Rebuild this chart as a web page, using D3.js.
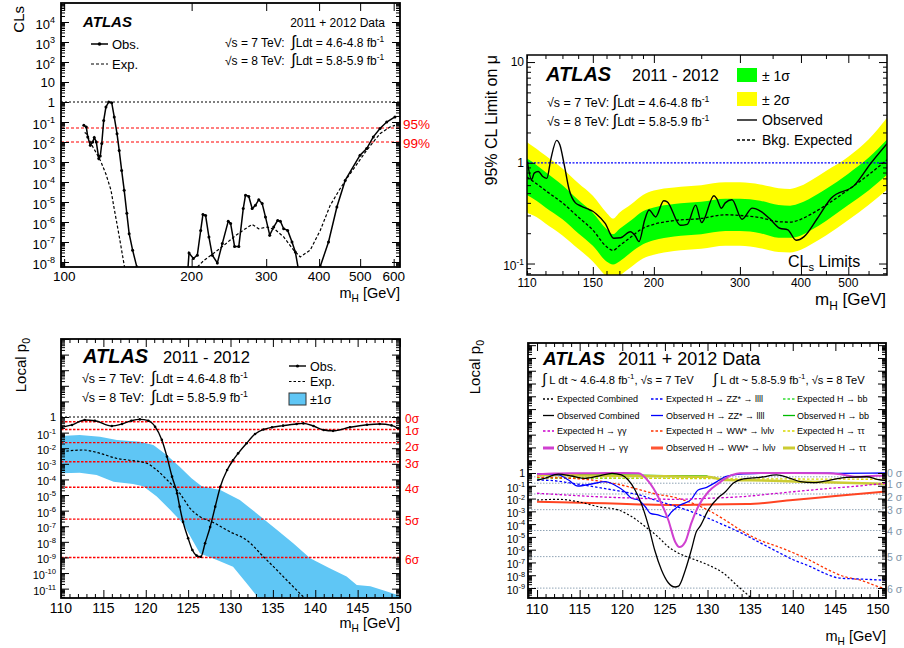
<!DOCTYPE html>
<html><head><meta charset="utf-8">
<script src="https://cdn.jsdelivr.net/npm/d3@7/dist/d3.min.js"></script>
<style>
html,body{margin:0;padding:0;background:#fff;}
svg{display:block;font-family:"Liberation Sans",Arial,Helvetica,sans-serif;}
text{white-space:pre;}
</style></head><body>
<svg id="chart" width="904" height="648" viewBox="0 0 904 648"></svg>
<script>
// ======================= DATA =======================
// ---- Panel 1 : CLs vs mH (log mass) ----
const p1TickMasses = [100, 200, 300, 400, 500, 600];
const p1Observed = [[111.3,0.068],[112.8,0.056],[113.7,0.018],[115.3,0.0068],[116.8,0.010],[117.8,0.0166],[119.1,0.010],[120.7,0.0015],[121.7,0.002],[122.7,0.0084],[124.0,0.12],[125.5,0.56],[127.4,1.0],[129.5,0.93],[131.3,0.18],[133.3,0.026],[134.9,0.0038],[136.7,3.8e-4],[138.6,3.9e-5],[140.6,2.7e-6],[142.4,2.6e-7],[145.1,3.9e-8],[148.5,5.6e-9],[150.1,1e-9],
 [195,1e-9],[197.2,2.8e-8],[201.9,1.5e-8],[206.3,2.2e-8],[210.1,3.8e-7],[212.7,2.4e-6],[215.8,2.1e-6],[219.7,1.8e-7],[223.8,2.2e-8],[230.0,9e-9],[236.3,8.3e-8],[244.1,1.1e-6],[247.2,8.5e-7],[252.6,6e-8],[258.5,6e-8],[264.8,4.7e-6],[268.1,2.2e-5],[272.9,1.9e-5],[278.0,4.7e-6],[283.0,6.8e-6],[288.1,1.3e-5],[293.5,8.3e-6],[298.8,1.8e-6],[305.8,2.2e-7],[312.5,5.6e-7],[319.3,1.2e-6],[324.0,1.1e-6],[329.9,4.6e-7],[337.1,3.8e-7],[345.2,1e-7],[351.5,3.2e-8],[359.7,2e-9],
 [400,1e-9],[402.5,6e-9],[421.0,1e-7],[440.6,5.6e-6],[460.9,1.2e-4],[499.7,2.2e-3],[518.2,4.7e-3],[537.1,0.018],[557.0,0.047],[577.6,0.10],[604.2,0.18]];
const p1Expected = [[111.8,0.03],[112.7,0.027],[117.0,0.0055],[120.7,1.7e-3],[122.2,1e-3],[125.5,2.5e-4],[129.0,3.9e-5],[131.3,4.5e-6],[133.7,5.6e-7],[136.2,6e-8],[138.6,7e-9],[140.6,1e-9],
 [203,1e-9],[206.3,5.6e-9],[213.8,1.2e-8],[225.8,2.8e-8],[238.4,6.8e-8],[251.7,1.8e-7],[265.6,4.1e-7],[278.0,7.6e-7],[288.1,4.6e-7],[301.5,5.6e-7],[315.4,4.1e-7],[329.9,1.8e-7],[348.3,3.9e-8],[361.1,1.8e-8],[381.3,4e-8],[402.5,3.8e-7],[424.9,6.8e-6],[448.6,4.7e-5],[465.1,1.5e-4],[518.2,3.9e-3],[557.0,0.026],[588.0,0.056],[604.2,0.068]];
const p1Levels = [0.05, 0.01];
const p1LevelLabels = ["95%", "99%"];

// ---- Panel 2 : 95% CL limit on mu ----
const p2TickMasses = [110, 150, 200, 300, 400, 500];
const p2BandMass = [110,115,120,130,140,150,160,165,170,180,190,200,220,250,280,300,330,360,380,400,420,450,500,550,600];
const p2Expected = [0.72,0.62,0.53,0.40,0.29,0.215,0.147,0.135,0.15,0.185,0.224,0.245,0.267,0.28,0.305,0.30,0.285,0.26,0.258,0.275,0.31,0.38,0.54,0.76,1.07];
const p2Plus1  = [1.10,0.95,0.81,0.60,0.43,0.32,0.22,0.195,0.22,0.27,0.33,0.36,0.39,0.41,0.44,0.44,0.42,0.38,0.375,0.40,0.45,0.55,0.78,1.12,1.70];
const p2Minus1 = [0.48,0.42,0.36,0.275,0.20,0.15,0.105,0.098,0.105,0.13,0.155,0.17,0.185,0.195,0.21,0.21,0.20,0.18,0.18,0.19,0.215,0.265,0.38,0.53,0.76];
const p2Plus2  = [1.60,1.38,1.18,0.88,0.63,0.47,0.32,0.28,0.32,0.39,0.48,0.53,0.57,0.60,0.64,0.64,0.61,0.56,0.55,0.59,0.67,0.83,1.15,1.70,2.80];
const p2Minus2 = [0.32,0.29,0.25,0.19,0.14,0.105,0.074,0.066,0.075,0.093,0.112,0.122,0.133,0.14,0.15,0.15,0.142,0.13,0.129,0.137,0.155,0.19,0.27,0.38,0.54];
const p2Observed = [[110.2,1.03],[112.4,0.68],[113.8,0.79],[116,0.82],[118.5,0.73],[120.8,0.70],[123,1.07],[126.5,1.67],[128.4,1.51],[131.3,0.92],[134.2,0.54],[138.2,0.40],[142.3,0.37],[146,0.35],[150,0.33],[152.5,0.31],[159,0.25],[165.5,0.178],[171,0.18],[179,0.207],[183,0.19],[186.5,0.165],[191.5,0.27],[195.5,0.34],[201.7,0.29],[209.5,0.42],[213,0.41],[226.5,0.24],[234,0.245],[243.5,0.38],[250.5,0.255],[265.5,0.47],[269,0.44],[275,0.354],[280,0.40],[289,0.43],[303,0.275],[318,0.355],[331,0.33],[345,0.28],[362,0.224],[376,0.216],[391,0.17],[406,0.185],[432,0.28],[461,0.445],[515,0.60],[556,0.99],[600,1.55]];

// ---- Panel 3 : local p0 (combined) ----
const p3TickMasses = [110,115,120,125,130,135,140,145,150];
const p3Observed = [[110.1,0.22],[111.3,0.31],[112.8,0.64],[114,0.58],[116,0.265],[117.2,0.36],[118.3,0.58],[119.3,0.71],[120.3,0.58],[121.1,0.24],[121.9,0.034],[122.5,2.9e-3],[123.1,1.5e-4],[123.7,1.3e-5],[124.0,1.8e-6],[124.4,1.9e-7],[125.0,1.7e-8],[125.5,3e-9],[126.0,1.3e-9],[126.5,1.1e-9],[127.0,8.1e-9],[127.6,9e-8],[128.2,1.8e-6],[128.8,3.4e-5],[129.6,4e-4],[130.3,1.7e-3],[130.9,4.7e-3],[131.9,0.021],[132.9,0.081],[133.9,0.16],[134.9,0.22],[136.2,0.28],[137.8,0.36],[138.6,0.39],[139.8,0.265],[141.0,0.147],[142.1,0.13],[144.1,0.22],[146.1,0.32],[147.6,0.36],[149.0,0.29],[149.8,0.19]];
const p3Expected = [[110.1,6e-3],[112.6,7.7e-3],[114.6,4.7e-3],[116.6,2.2e-3],[118.5,1.6e-3],[120.1,1.1e-3],[121.3,4e-4],[122.5,9.5e-5],[124,1.3e-5],[125.4,1.1e-6],[126.4,4.1e-7],[128.0,1.7e-7],[129.9,4.5e-8],[131.9,1.3e-8],[133.9,1.1e-9],[135.5,1.5e-10],[137.0,2.2e-11],[138.6,3e-12],[139.5,1e-12]];
const p3BandUpper = [[110,0.06],[112.2,0.07],[114.6,0.055],[116.6,0.034],[119.3,0.026],[120.9,0.016],[122.5,3.6e-3],[124,6.5e-4],[125.4,1.2e-4],[126.6,3.7e-5],[128.8,2.1e-5],[131.1,4.8e-6],[133.1,6.6e-7],[135.5,5.7e-8],[137.4,8.1e-9],[139.4,8.8e-10],[141.7,2e-10],[143.7,5.9e-11],[144.9,1.7e-11],[146.5,1.4e-11],[148,8e-12],[150,3.5e-12]];
const p3BandLower = [[110,2.5e-4],[112.2,2.7e-4],[114.2,1.9e-4],[116.2,7.1e-5],[118.5,5.1e-5],[119.7,3.7e-5],[121.3,8e-6],[122.9,1.1e-6],[124.4,1.5e-7],[126.4,1.8e-9],[128.4,6.8e-10],[130.3,2.5e-10],[131.9,2.2e-11],[133.3,2.5e-12],[134,1e-13],[150,1e-13]];
const sigmaPValues = [0.5, 0.1587, 0.02275, 1.35e-3, 3.17e-5, 2.87e-7, 9.87e-10];
const sigmaNames = ["0","1","2","3","4","5","6"];

// ---- Panel 4 : local p0 per channel ----
const p4TickMasses = [110,115,120,125,130,135,140,145,150];
const p4ObsComb = [[110,0.28],[110.9,0.38],[112.5,0.83],[114.1,0.58],[115.6,0.38],[117.2,0.58],[118.8,0.95],[119.9,0.70],[120.7,0.28],[121.5,0.047],[122.3,3.1e-3],[123.1,6.3e-5],[123.8,9.4e-7],[124.6,2.6e-8],[125.4,2.6e-9],[126.2,1.2e-9],[126.6,1.4e-9],[127.4,2.6e-8],[128.1,9.4e-7],[128.7,2.6e-5],[129.1,6.3e-5],[130.1,1.3e-3],[131.3,0.0125],[132.1,0.034],[133.0,0.155],[134.2,0.34],[136.2,0.46],[138.1,0.70],[139.7,0.38],[140.9,0.21],[142.4,0.175],[144.4,0.28],[146.3,0.46],[148.7,0.51],[149.9,0.32],[151,0.25]];
const p4ExpComb = [[110,7.7e-3],[112.5,8.7e-3],[114.8,5.7e-3],[117.2,2.3e-3],[119.5,1.3e-3],[121.1,3.9e-4],[122.7,6.3e-5],[124.2,1.0e-5],[125.4,1.7e-6],[126.6,5.3e-7],[128.1,2.1e-7],[130.1,6.3e-8],[131.9,1.4e-8],[133.5,1.5e-9],[135,2e-10],[136,5e-11]];
const p4ObsZZ = [[110,0.9],[112.5,0.70],[113.7,0.28],[114.8,0.096],[116.4,0.138],[118,0.21],[119.1,0.115],[120.3,0.034],[121.1,0.0105],[121.9,7.7e-3],[122.7,2.3e-3],[123.3,7e-4],[124.2,5.2e-4],[125.2,3.4e-4],[125.8,9.4e-4],[126.8,3.1e-3],[128.1,8.7e-3],[128.9,0.047],[129.9,0.076],[131.1,0.21],[132.1,0.51],[133.8,0.83],[136.2,0.95],[140,1.0],[145,0.95],[151,1.0]];
const p4ExpZZ = [[110,0.28],[112,0.25],[114,0.16],[116,0.10],[118,0.06],[120,0.035],[122,0.019],[124,7e-3],[126,2.8e-3],[128,1.0e-3],[130,3e-4],[132,8e-5],[134,2e-5],[136,4e-6],[138,8e-7],[140,1.7e-7],[142,5e-8],[144,1.2e-8],[145.5,6e-9],[148,5e-9],[151,4e-9]];
const p4ObsGG = [[110,0.8],[112,0.9],[114,0.95],[116,0.95],[118,1.0],[120,1.0],[121.9,0.95],[123.1,0.21],[124.2,0.014],[125.4,2.1e-4],[126.2,4.2e-6],[126.7,1.6e-6],[127.4,4.2e-6],[128.1,1.2e-4],[128.9,2.3e-3],[130.1,0.034],[131.3,0.155],[132.1,0.38],[133.8,0.95],[136,1.0],[140,1.0],[144,0.95],[145.6,0.8],[147.5,0.5],[149.8,0.6],[151,0.6]];
const p4ExpGG = [[110,0.026],[114,0.018],[118,0.013],[122,0.0105],[126,8.7e-3],[130,0.0105],[134,0.014],[138,0.025],[140,0.034],[144,0.06],[148,0.1],[151,0.16]];
const p4ObsWW = [[110,5.7e-3],[114,4.9e-3],[118,4.2e-3],[122,3.5e-3],[126,3.1e-3],[130,3.5e-3],[134.6,3.7e-3],[140,7.7e-3],[145,0.016],[151,0.036]];
const p4ExpWW = [[110,0.45],[112,0.42],[114,0.38],[116,0.3],[118,0.2],[120,0.11],[122,0.05],[124,0.022],[126,0.013],[128,5e-3],[130,1.3e-3],[132,2.2e-4],[134,3e-5],[136,6e-6],[138,2e-6],[140,6e-7],[142,1.5e-7],[144,3e-8],[146,8e-9],[148,4e-9],[150,1.3e-9],[151,8e-10]];
const p4ObsBB = [[110,0.8],[115,0.75],[120,0.7],[125,0.62],[130,0.6]];
const p4ExpBB = [[110,0.4],[115,0.38],[120,0.38],[125,0.38],[130,0.38]];
const p4ObsTT = [[110,0.7],[115,0.65],[120,0.6],[125,0.55],[130,0.5],[132.2,0.28],[137.7,0.25],[140.9,0.21],[145,0.18],[151,0.14]];
const p4ExpTT = [[110,0.45],[120,0.4],[130,0.36],[140,0.34],[151,0.32]];
const p4LegendNames = [
  ["Expected Combined","Observed Combined","Expected H \u2192 \u03b3\u03b3","Observed H \u2192 \u03b3\u03b3"],
  ["Expected H \u2192 ZZ* \u2192 llll","Observed H \u2192 ZZ* \u2192 llll","Expected H \u2192 WW* \u2192 l\u03bdl\u03bd","Observed H \u2192 WW* \u2192 l\u03bdl\u03bd"],
  ["Expected H \u2192 bb","Observed H \u2192 bb","Expected H \u2192 \u03c4\u03c4","Observed H \u2192 \u03c4\u03c4"]];

// ======================= HELPERS =======================
const svg = d3.select('#chart');
const defs = svg.append('defs');

function panel(id, x0, x1, y0, y1, xScale, yDomain) {
  const g = svg.append('g');
  const x = xScale.range([x0, x1]);
  const y = d3.scaleLog().domain(yDomain).range([y1, y0]);
  defs.append('clipPath').attr('id', id).append('rect')
    .attr('x', x0).attr('y', y0).attr('width', x1 - x0).attr('height', y1 - y0);
  const plot = g.append('g').attr('clip-path', `url(#${id})`);
  return {g, plot, x, y, x0, x1, y0, y1};
}
function logTickVals(dom) {
  const lo = Math.min(dom[0], dom[1]), hi = Math.max(dom[0], dom[1]);
  const maj = [], min = [];
  for (let e = Math.floor(Math.log10(lo)); e <= Math.ceil(Math.log10(hi)); e++) {
    for (let k = 1; k <= 9; k++) {
      const v = k * Math.pow(10, e);
      if (v >= lo && v <= hi) (k === 1 ? maj : min).push(v);
    }
  }
  return {maj, min};
}
function ticksAndFrame(P, xMaj, xMin, yMaj, yMin, LM, Lm, fw) {
  const spec = [[d3.axisBottom, P.x, `translate(0,${P.y1})`, true],
                [d3.axisTop, P.x, `translate(0,${P.y0})`, true],
                [d3.axisLeft, P.y, `translate(${P.x0},0)`, false],
                [d3.axisRight, P.y, `translate(${P.x1},0)`, false]];
  spec.forEach(([fn, sc, tr, isX]) => {
    [[isX ? xMaj : yMaj, LM], [isX ? xMin : yMin, Lm]].forEach(([vals, len]) => {
      if (!vals.length) return;
      const a = P.g.append('g').attr('transform', tr)
        .call(fn(sc).tickValues(vals).tickSize(-len).tickFormat(''));
      a.select('.domain').remove();
      a.selectAll('.tick text').remove();
      a.selectAll('line').attr('stroke', '#000').attr('stroke-width', 1);
    });
  });
  P.g.append('rect').attr('x', P.x0).attr('y', P.y0).attr('width', P.x1 - P.x0).attr('height', P.y1 - P.y0)
    .attr('fill', 'none').attr('stroke', '#000').attr('stroke-width', fw);
}
function rich(g, x, y, parts, o = {}) {
  const size = o.size || 12;
  const t = g.append('text').attr('x', x).attr('y', y).attr('font-size', size)
    .attr('text-anchor', o.anchor || 'start').attr('fill', o.fill || '#000');
  if (o.weight) t.attr('font-weight', o.weight);
  if (o.italic) t.attr('font-style', 'italic');
  if (o.transform) t.attr('transform', o.transform);
  let cur = 0;
  parts.forEach(p => {
    let s, target = 0, fs = size;
    if (typeof p === 'string') s = p;
    else if (p.sup !== undefined) { s = p.sup; target = -size * 0.42; fs = size * 0.7; }
    else if (p.sub !== undefined) { s = p.sub; target = size * 0.28; fs = size * 0.7; }
    else if (p.big !== undefined) { s = p.big; fs = size * 1.35; }
    const ts = t.append('tspan').attr('dy', target - cur).text(s);
    if (fs !== size) ts.attr('font-size', fs);
    cur = target;
  });
  return t;
}
function powLabel(g, x, ytick, e, size) {
  if (e === 0) return rich(g, x, ytick + size * 0.36, ['1'], {size, anchor: 'end'});
  if (e === 1) return rich(g, x, ytick + size * 0.36, ['10'], {size, anchor: 'end'});
  return rich(g, x, ytick + size * 0.36 + 2, ['10', {sup: String(e)}], {size, anchor: 'end'});
}
function path(P, data, curve) {
  return d3.line().x(d => P.x(d[0])).y(d => P.y(d[1])).curve(curve || d3.curveLinear)(data);
}
function hline(P, v, color, dash, w) {
  P.plot.append('line').attr('x1', P.x0).attr('x2', P.x1).attr('y1', P.y(v)).attr('y2', P.y(v))
    .attr('stroke', color).attr('stroke-dasharray', dash).attr('stroke-width', w);
}

// ======================= PANEL 1 =======================
{
  const P = panel('c1', 61, 400, 3, 267, d3.scaleLog().domain([98.3, 621]), [Math.pow(10, -8.25), Math.pow(10, 4.95)]);
  hline(P, 1, '#000', '2,2', 1.2);
  p1Levels.forEach(v => hline(P, v, '#ff0000', '3,2', 1.2));
  P.plot.append('path').attr('d', path(P, p1Expected)).attr('fill', 'none').attr('stroke', '#000').attr('stroke-width', 1.2).attr('stroke-dasharray', '3,2');
  P.plot.append('path').attr('d', path(P, p1Observed)).attr('fill', 'none').attr('stroke', '#000').attr('stroke-width', 1.5);
  P.plot.selectAll('circle.m').data(p1Observed).join('circle').attr('cx', d => P.x(d[0])).attr('cy', d => P.y(d[1])).attr('r', 1.5).attr('fill', '#000');
  const yt = logTickVals(P.y.domain());
  ticksAndFrame(P, p1TickMasses, [], yt.maj, yt.min, 8, 4, 1.8);
  for (let e = -8; e <= 4; e++) powLabel(P.g, 55, P.y(Math.pow(10, e)), e, 13);
  p1TickMasses.forEach(m => rich(P.g, P.x(m), 281, [String(m)], {size: 13.5, anchor: 'middle'}));
  rich(P.g, 400, 298, ['m', {sub: 'H'}, ' [GeV]'], {size: 14.5, anchor: 'end'});
  rich(P.g, 24, 6, ['CLs'], {size: 15, anchor: 'end', transform: 'rotate(-90,24,6)'});
  const p1LabelShift = [0.5, 5.5];
  p1LevelLabels.forEach((s, i) => rich(P.g, 403, P.y(p1Levels[i]) + p1LabelShift[i], [s], {size: 13.5, fill: '#ff0000'}));
  rich(P.g, 83, 27, ['ATLAS'], {size: 15, weight: 'bold', italic: true});
  rich(P.g, 385, 27, ['2011 + 2012 Data'], {size: 12, anchor: 'end'});
  rich(P.g, 225, 47, ['\u221as = 7 TeV:  ', {big: '\u222b'}, 'Ldt = 4.6-4.8 fb', {sup: '-1'}], {size: 12});
  rich(P.g, 225, 65, ['\u221as = 8 TeV:  ', {big: '\u222b'}, 'Ldt = 5.8-5.9 fb', {sup: '-1'}], {size: 12});
  // legend
  P.g.append('line').attr('x1', 91).attr('x2', 108).attr('y1', 44).attr('y2', 44).attr('stroke', '#000').attr('stroke-width', 1.5);
  P.g.append('circle').attr('cx', 99.5).attr('cy', 44).attr('r', 1.8).attr('fill', '#000');
  rich(P.g, 112, 49, ['Obs.'], {size: 13});
  P.g.append('line').attr('x1', 91).attr('x2', 108).attr('y1', 64).attr('y2', 64).attr('stroke', '#000').attr('stroke-width', 1.2).attr('stroke-dasharray', '3,2');
  rich(P.g, 112, 69, ['Exp.'], {size: 13});
}

// ======================= PANEL 2 =======================
{
  const P = panel('c2', 527, 887, 55, 275, d3.scaleLog().domain([110, 600]), [Math.pow(10, -1.114), Math.pow(10, 1.07)]);
  const band = (lo, hi) => d3.area().x((d, i) => P.x(p2BandMass[i])).y0((d, i) => P.y(lo[i])).y1((d, i) => P.y(hi[i])).curve(d3.curveMonotoneX)(p2BandMass);
  P.plot.append('path').attr('d', band(p2Minus2, p2Plus2)).attr('fill', '#ffff00');
  P.plot.append('path').attr('d', band(p2Minus1, p2Plus1)).attr('fill', '#00ff00');
  hline(P, 1, '#0000ff', '2,1.5', 1.3);
  const expPts = p2BandMass.map((m, i) => [m, p2Expected[i]]);
  P.plot.append('path').attr('d', path(P, expPts, d3.curveMonotoneX)).attr('fill', 'none').attr('stroke', '#000').attr('stroke-width', 1.3).attr('stroke-dasharray', '3,2');
  P.plot.append('path').attr('d', path(P, p2Observed, d3.curveMonotoneX)).attr('fill', 'none').attr('stroke', '#000').attr('stroke-width', 1.4);
  const yt = logTickVals(P.y.domain());
  ticksAndFrame(P, [150, 200, 300, 400, 500], [110, 120, 130, 140, 160, 170, 180, 190, 250, 350, 450, 550], yt.maj, yt.min, 8, 4, 1.5);
  [1, 0, -1].forEach(e => powLabel(P.g, 524, P.y(Math.pow(10, e)), e, 12));
  p2TickMasses.forEach(m => rich(P.g, P.x(m), 287, [String(m)], {size: 12, anchor: 'middle'}));
  rich(P.g, 886, 305, ['m', {sub: 'H'}, ' [GeV]'], {size: 17, anchor: 'end'});
  rich(P.g, 497, 55, ['95% CL Limit on \u03bc'], {size: 16, anchor: 'end', transform: 'rotate(-90,497,55)'});
  rich(P.g, 546, 81, ['ATLAS'], {size: 20, weight: 'bold', italic: true});
  rich(P.g, 632, 81, ['2011 - 2012'], {size: 16.5});
  rich(P.g, 547, 107, ['\u221as = 7 TeV: ', {big: '\u222b'}, 'Ldt = 4.6-4.8 fb', {sup: '-1'}], {size: 12.5});
  rich(P.g, 547, 126, ['\u221as = 8 TeV: ', {big: '\u222b'}, 'Ldt = 5.8-5.9 fb', {sup: '-1'}], {size: 12.5});
  P.g.append('rect').attr('x', 737).attr('y', 68).attr('width', 20).attr('height', 14).attr('fill', '#00ff00');
  rich(P.g, 762, 81, ['\u00b1 1\u03c3'], {size: 14});
  P.g.append('rect').attr('x', 737).attr('y', 92).attr('width', 20).attr('height', 14).attr('fill', '#ffff00');
  rich(P.g, 762, 105, ['\u00b1 2\u03c3'], {size: 14});
  P.g.append('line').attr('x1', 737).attr('x2', 757).attr('y1', 120).attr('y2', 120).attr('stroke', '#000').attr('stroke-width', 1.4);
  rich(P.g, 762, 125, ['Observed'], {size: 14});
  P.g.append('line').attr('x1', 737).attr('x2', 757).attr('y1', 140).attr('y2', 140).attr('stroke', '#000').attr('stroke-width', 1.3).attr('stroke-dasharray', '3,2');
  rich(P.g, 762, 145, ['Bkg. Expected'], {size: 14});
  rich(P.g, 788, 267, ['CL', {sub: 's'}, ' Limits'], {size: 16});
}

// ======================= PANEL 3 =======================
{
  const P = panel('c3', 61, 400, 339, 598, d3.scaleLinear().domain([110, 150]), [Math.pow(10, -11.6), Math.pow(10, 5.0)]);
  const poly = p3BandUpper.concat(p3BandLower.slice().reverse());
  P.plot.append('path').attr('d', path(P, poly) + 'Z').attr('fill', '#5fc6f5');
  hline(P, 1, '#000', '2,2', 1.2);
  sigmaPValues.forEach(v => hline(P, v, '#ff0000', '2.5,1.5', 1.4));
  P.plot.append('path').attr('d', path(P, p3Expected, d3.curveMonotoneX)).attr('fill', 'none').attr('stroke', '#000').attr('stroke-width', 1.2).attr('stroke-dasharray', '2.5,2');
  P.plot.append('path').attr('d', path(P, p3Observed, d3.curveMonotoneX)).attr('fill', 'none').attr('stroke', '#000').attr('stroke-width', 1.4);
  P.plot.selectAll('circle.m').data(p3Observed).join('circle').attr('cx', d => P.x(d[0])).attr('cy', d => P.y(d[1])).attr('r', 1.3).attr('fill', '#000');
  const yt = logTickVals(P.y.domain());
  const xmin = d3.range(111, 150).filter(v => v % 5 !== 0);
  ticksAndFrame(P, p3TickMasses, xmin, yt.maj, yt.min, 8, 4, 1.8);
  for (let e = -11; e <= 0; e++) powLabel(P.g, 56, P.y(Math.pow(10, e)), e, 11);
  p3TickMasses.forEach(m => rich(P.g, P.x(m), 613, [String(m)], {size: 14, anchor: 'middle'}));
  rich(P.g, 400, 628, ['m', {sub: 'H'}, ' [GeV]'], {size: 14.5, anchor: 'end'});
  rich(P.g, 26, 338, ['Local p', {sub: '0'}], {size: 15, anchor: 'end', transform: 'rotate(-90,26,338)'});
  const p3LabelShift = [1, 6, 8, 6, 6, 6, 6];
  sigmaPValues.forEach((v, i) => rich(P.g, 405, P.y(v) + p3LabelShift[i], [sigmaNames[i] + '\u03c3'], {size: 12, fill: '#ff0000'}));
  rich(P.g, 83, 363, ['ATLAS'], {size: 20, weight: 'bold', italic: true});
  rich(P.g, 163, 363, ['2011 - 2012'], {size: 16.5});
  rich(P.g, 82, 383, ['\u221as = 7 TeV:  ', {big: '\u222b'}, 'Ldt = 4.6-4.8 fb', {sup: '-1'}], {size: 12.5});
  rich(P.g, 82, 402, ['\u221as = 8 TeV:  ', {big: '\u222b'}, 'Ldt = 5.8-5.9 fb', {sup: '-1'}], {size: 12.5});
  P.g.append('line').attr('x1', 289).attr('x2', 306).attr('y1', 366).attr('y2', 366).attr('stroke', '#000').attr('stroke-width', 1.4);
  P.g.append('circle').attr('cx', 297.5).attr('cy', 366).attr('r', 1.6).attr('fill', '#000');
  rich(P.g, 310, 371, ['Obs.'], {size: 12.5});
  P.g.append('line').attr('x1', 289).attr('x2', 306).attr('y1', 381.5).attr('y2', 381.5).attr('stroke', '#000').attr('stroke-width', 1.2).attr('stroke-dasharray', '2.5,2');
  rich(P.g, 310, 386, ['Exp.'], {size: 12.5});
  P.g.append('rect').attr('x', 289).attr('y', 393).attr('width', 17).attr('height', 12).attr('fill', '#5fc6f5').attr('stroke', '#333').attr('stroke-width', 1);
  rich(P.g, 310, 404, ['\u00b11\u03c3'], {size: 12.5});
}

// ======================= PANEL 4 =======================
{
  const P = panel('c4', 528, 886, 343, 598, d3.scaleLinear().domain([108.94, 150.94]), [Math.pow(10, -9.78), Math.pow(10, 10.17)]);
  sigmaPValues.forEach(v => hline(P, v, '#8fa3b5', '1.5,1.5', 1));
  const series = [
    {d: p4ExpBB, c: '#33dd33', w: 1.3, dash: '2.5,2'},
    {d: p4ObsBB, c: '#00bb00', w: 1.3},
    {d: p4ExpTT, c: '#d8d800', w: 1.3, dash: '2.5,2'},
    {d: p4ObsTT, c: '#cccc33', w: 2.5},
    {d: p4ExpWW, c: '#ff3300', w: 1.3, dash: '2.5,2'},
    {d: p4ObsWW, c: '#ff4422', w: 2},
    {d: p4ExpZZ, c: '#0000ff', w: 1.3, dash: '2.5,2'},
    {d: p4ObsZZ, c: '#0000ff', w: 1.3},
    {d: p4ExpGG, c: '#cc00cc', w: 1.3, dash: '2.5,2'},
    {d: p4ObsGG, c: '#d040d0', w: 2},
    {d: p4ExpComb, c: '#000', w: 1.2, dash: '2,2'},
    {d: p4ObsComb, c: '#000', w: 1.3}];
  series.forEach(s => {
    const p = P.plot.append('path').attr('d', path(P, s.d, d3.curveMonotoneX)).attr('fill', 'none').attr('stroke', s.c).attr('stroke-width', s.w);
    if (s.dash) p.attr('stroke-dasharray', s.dash);
  });
  const yt = logTickVals(P.y.domain());
  const xmin = d3.range(109, 151).filter(v => v % 5 !== 0);
  ticksAndFrame(P, p4TickMasses, xmin, yt.maj, yt.min, 8, 4, 1.8);
  for (let e = -9; e <= 0; e++) powLabel(P.g, 525, P.y(Math.pow(10, e)), e, 10.5);
  p4TickMasses.forEach(m => rich(P.g, P.x(m), 614, [String(m)], {size: 14, anchor: 'middle'}));
  rich(P.g, 886, 641, ['m', {sub: 'H'}, ' [GeV]'], {size: 14.5, anchor: 'end'});
  rich(P.g, 480, 340, ['Local p', {sub: '0'}], {size: 15, anchor: 'end', transform: 'rotate(-90,480,340)'});
  const p4LabelShift = [0, 5, 7, 4.5, 4.5, 4.5, 4.5];
  sigmaPValues.forEach((v, i) => rich(P.g, 887, P.y(v) + p4LabelShift[i], [sigmaNames[i] + ' \u03c3'], {size: 10.5, fill: '#7f95a8'}));
  rich(P.g, 543, 365, ['ATLAS'], {size: 19, weight: 'bold', italic: true});
  rich(P.g, 618, 365, ['2011 + 2012 Data'], {size: 18});
  rich(P.g, 542, 384, [{big: '\u222b'}, ' L dt ~ 4.6-4.8 fb', {sup: '-1'}, ', \u221as = 7 TeV'], {size: 11.2});
  rich(P.g, 713, 384, [{big: '\u222b'}, ' L dt ~ 5.8-5.9 fb', {sup: '-1'}, ', \u221as = 8 TeV'], {size: 11.2});
  // legend
  const legStyle = [
    [{c: '#000', w: 1.3, dash: '2,2'}, {c: '#000', w: 1.3}, {c: '#cc00cc', w: 1.3, dash: '2.5,2'}, {c: '#d040d0', w: 3}],
    [{c: '#0000ff', w: 1.3, dash: '2.5,2'}, {c: '#0000ff', w: 1.3}, {c: '#ff3300', w: 1.3, dash: '2.5,2'}, {c: '#ff5533', w: 3}],
    [{c: '#33dd33', w: 1.3, dash: '2.5,2'}, {c: '#00bb00', w: 1.3}, {c: '#d8d800', w: 1.3, dash: '2.5,2'}, {c: '#cccc33', w: 3}]];
  const colX = [[543, 554, 557], [651, 663, 666], [783, 795, 797]];
  const rowY = [399, 415.5, 431, 448];
  p4LegendNames.forEach((col, ci) => col.forEach((name, ri) => {
    const st = legStyle[ci][ri];
    const l = P.g.append('line').attr('x1', colX[ci][0]).attr('x2', colX[ci][1]).attr('y1', rowY[ri]).attr('y2', rowY[ri]).attr('stroke', st.c).attr('stroke-width', st.w);
    if (st.dash) l.attr('stroke-dasharray', st.dash);
    rich(P.g, colX[ci][2], rowY[ri] + 3.2, [name], {size: 9});
  }));
}
</script>
</body></html>
